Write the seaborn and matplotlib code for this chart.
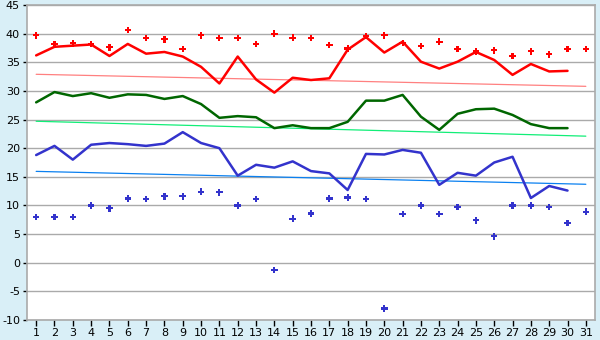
import matplotlib
matplotlib.use("Agg")
import matplotlib.pyplot as plt
import seaborn as sns
import pandas as pd

days = list(range(1, 32))

record_max = [39.7, 38.2, 38.3, 38.2, 37.6, 40.6, 39.2, 39.0, 37.3, 39.7,
              39.2, 39.2, 38.2, 40.0, 39.3, 39.2, 38.0, 37.4, 39.6, 39.7,
              38.4, 37.8, 38.6, 37.3, 36.9, 37.1, 36.1, 36.9, 36.4, 37.3, 37.3]
avg_max = [36.2, 37.7, 37.9, 38.1, 36.1, 38.2, 36.5, 36.8, 36.0, 34.2,
           31.3, 36.0, 32.0, 29.7, 32.3, 31.9, 32.2, 37.2, 39.4, 36.7,
           38.6, 35.1, 33.9, 35.1, 36.8, 35.4, 32.8, 34.7, 33.4, 33.5]
avg_mean = [28.0, 29.8, 29.1, 29.6, 28.8, 29.4, 29.3, 28.6, 29.1, 27.7,
            25.3, 25.6, 25.4, 23.5, 24.0, 23.5, 23.5, 24.6, 28.3, 28.3,
            29.3, 25.5, 23.2, 26.0, 26.8, 26.9, 25.8, 24.2, 23.5, 23.5]
avg_min = [18.8, 20.4, 18.0, 20.6, 20.9, 20.7, 20.4, 20.8, 22.8, 20.9,
           20.0, 15.2, 17.1, 16.6, 17.7, 16.0, 15.6, 12.7, 19.0, 18.9,
           19.7, 19.2, 13.6, 15.7, 15.2, 17.5, 18.5, 11.3, 13.4, 12.6]
record_min = [8.0, 8.0, 8.0, 10.0, 9.5, 11.2, 11.1, 11.6, 11.6, 12.4,
              12.3, 10.0, 11.1, -1.3, 7.7, 8.6, 11.2, 11.4, 11.1, -8.0,
              8.5, 10.0, 8.5, 9.7, 7.4, 4.6, 10.0, 10.0, 9.7, 6.9, 8.9]
trend_days = [1, 31]
trend_max = [32.9, 30.8]
trend_mean = [24.7, 22.1]
trend_min = [15.95, 13.7]

y_ticks = list(range(-10, 50, 5))

bg = "#d9eff7"
sns.set_theme(style="white")
plt.rcParams['font.family'] = ['DejaVu Sans']

fig = plt.figure(figsize=(6, 3.4), dpi=100, facecolor=bg)
ax = fig.add_axes([27/600, 20/340, 568/600, 315/340])
ax.set_facecolor("white")

for yv in y_ticks:
    ax.axhline(yv, color="#aaaaaa", lw=1.0, zorder=0)

sns.lineplot(x=trend_days, y=trend_max, ax=ax, color="#ff8080", lw=0.9)
sns.lineplot(x=trend_days, y=trend_mean, ax=ax, color="#11ee77", lw=0.9)
sns.lineplot(x=trend_days, y=trend_min, ax=ax, color="#0a80f0", lw=0.9)

sns.lineplot(x=days[:len(avg_max)], y=avg_max, ax=ax, color="#ff0000", lw=1.8)
sns.lineplot(x=days[:len(avg_mean)], y=avg_mean, ax=ax, color="#006600", lw=1.8)
sns.lineplot(x=days[:len(avg_min)], y=avg_min, ax=ax, color="#3333cc", lw=1.8)

sns.scatterplot(x=days, y=record_max, ax=ax, color="#ff0000", marker="P", s=22,
                edgecolor="none", zorder=5)
sns.scatterplot(x=days, y=record_min, ax=ax, color="#3333cc", marker="P", s=22,
                edgecolor="none", zorder=5)

ax.set_xlim(0.5, 31.5)
ax.set_ylim(-10, 45)
ax.set_xticks(days)
ax.set_xticklabels([str(d) for d in days])
ax.set_yticks(y_ticks)
ax.set_yticklabels([str(v) for v in y_ticks])
ax.tick_params(axis="both", labelsize=8, colors="#000000", length=4, width=1,
               pad=2, direction="out")
ax.tick_params(axis="x", bottom=True)
ax.tick_params(axis="y", left=True, length=3)
for s in ax.spines.values():
    s.set_color("#aaaaaa")
    s.set_linewidth(1.2)
    s.set_visible(True)
ax.set_xlabel("")
ax.set_ylabel("")
if ax.get_legend():
    ax.get_legend().remove()

fig.savefig("out.png", dpi=100, facecolor=bg)
